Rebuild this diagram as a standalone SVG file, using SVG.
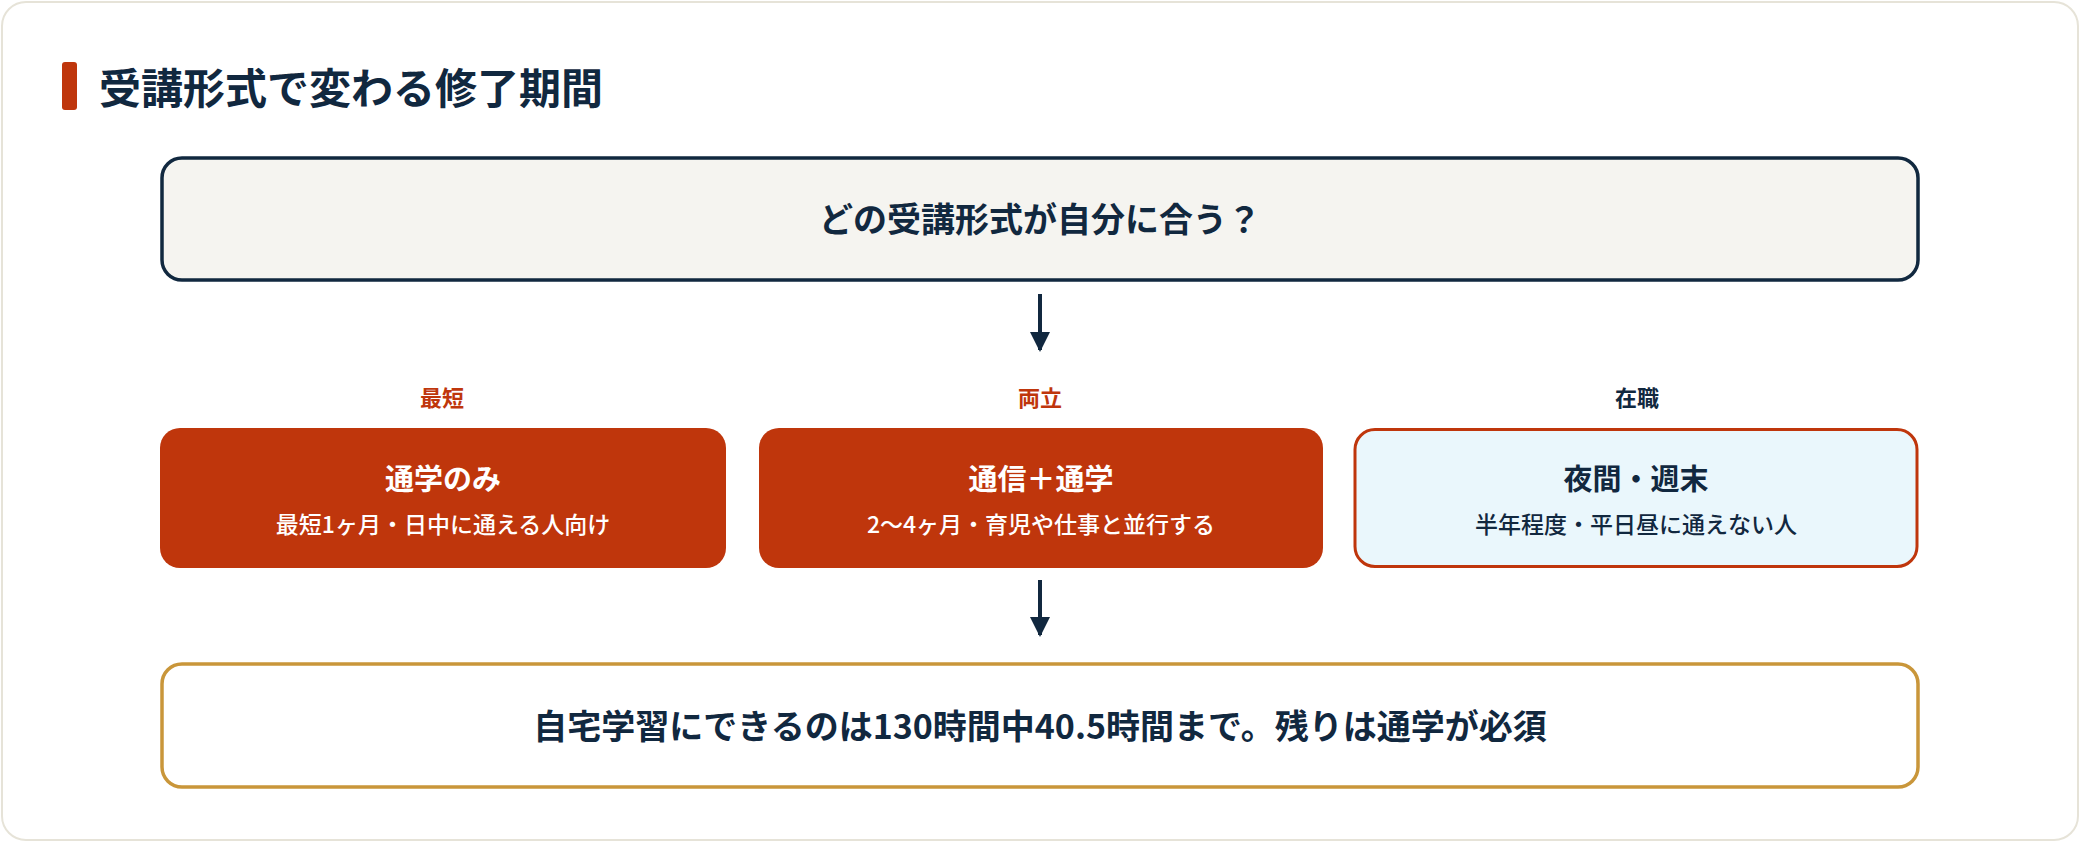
<svg xmlns="http://www.w3.org/2000/svg" width="2080" height="842" viewBox="0 0 2080 842">
<style>
text{font-family:"Noto Sans CJK JP","Noto Sans",sans-serif;text-anchor:middle;font-weight:700}
.dk{fill:#11283f}.rd{fill:#bf360c}.wh{fill:#fff}
.sub{font-weight:500;font-size:23px}
</style>
<defs><marker id="ah" viewBox="0 0 10 10" refX="9" refY="5" markerWidth="5" markerHeight="5" orient="auto" markerUnits="strokeWidth"><path d="M0,0L10,5L0,10z" fill="#11283f"/></marker></defs>
<rect x="2" y="2" width="2076" height="838" rx="24" fill="#fff" stroke="#e6e3d8" stroke-width="2"/>
<rect x="62" y="62" width="15" height="48" rx="3" fill="#bf360c"/>
<text x="99" y="104" class="dk" style="text-anchor:start;font-size:42px">受講形式で変わる修了期間</text>
<g id="connectors" stroke="#11283f" stroke-width="4" fill="none">
<line x1="1040" y1="294" x2="1040" y2="350" marker-end="url(#ah)"/>
<line x1="1040" y1="580" x2="1040" y2="635" marker-end="url(#ah)"/>
</g>
<g id="q"><rect x="162" y="158" width="1756" height="122" rx="20" fill="#f5f4f0" stroke="#11283f" stroke-width="3.5"/>
<text x="1040" y="232" class="dk" font-size="34">どの受講形式が自分に合う？</text></g>
<g id="l1"><text x="442" y="406" class="rd" font-size="22">最短</text></g>
<g id="l2"><text x="1040" y="406" class="rd" font-size="22">両立</text></g>
<g id="l3"><text x="1637" y="406" class="dk" font-size="22">在職</text></g>
<g id="b1"><rect x="160" y="428" width="566" height="140" rx="20" fill="#bf360c"/>
<text x="443" y="490" class="wh" font-size="29">通学のみ</text><text x="443" y="533" class="wh sub">最短1ヶ月・日中に通える人向け</text></g>
<g id="b2"><rect x="759" y="428" width="564" height="140" rx="20" fill="#bf360c"/>
<text x="1041" y="490" class="wh" font-size="29">通信＋通学</text><text x="1041" y="533" class="wh sub">2〜4ヶ月・育児や仕事と並行する</text></g>
<g id="b3"><rect x="1355" y="429.5" width="562" height="137" rx="20" fill="#eaf7fc" stroke="#bf360c" stroke-width="3"/>
<text x="1636" y="490" class="dk" font-size="29">夜間・週末</text><text x="1636" y="533" class="dk sub">半年程度・平日昼に通えない人</text></g>
<g id="bottom"><rect x="162" y="664" width="1756" height="123" rx="20" fill="#fff" stroke="#c9963a" stroke-width="3.5"/>
<text x="1040" y="739" class="dk" font-size="34">自宅学習にできるのは130時間中40.5時間まで。残りは通学が必須</text></g>
</svg>
